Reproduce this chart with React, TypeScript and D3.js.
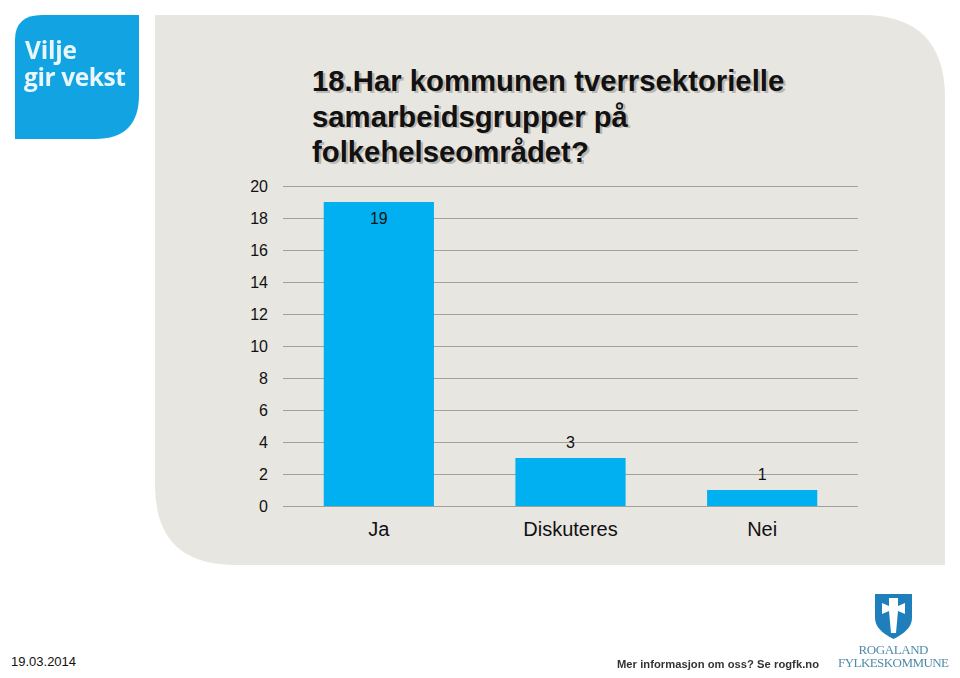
import React from "react";
import * as d3 from "d3";

const categories = ["Ja", "Diskuteres", "Nei"];
const values = [19, 3, 1];
const yTicks = [0, 2, 4, 6, 8, 10, 12, 14, 16, 18, 20];
const titleLines = [
  "18.Har kommunen tverrsektorielle",
  "samarbeidsgrupper på",
  "folkehelseområdet?",
];
const dateLabel = "19.03.2014";
const footerLabel = "Mer informasjon om oss? Se rogfk.no";

const SANS = "'Liberation Sans', Arial, sans-serif";
const SERIF = "'Liberation Serif', 'Times New Roman', serif";

const y = d3.scaleLinear().domain([0, 20]).range([506, 186]);
const x = d3.scaleBand<string>().domain(categories).range([283, 858]).paddingInner(0.425).paddingOuter(0.2125);

export default function App() {
  return (
    <svg width={960} height={678} viewBox="0 0 960 678"
      style={{ position: "absolute", left: 0, top: 0, background: "#fff" }}>
      <defs>
        <filter id="soft" x="-5%" y="-5%" width="110%" height="110%">
          <feGaussianBlur stdDeviation="0.35" />
        </filter>
      </defs>

      {/* panel */}
      <path d="M155,15 H862 Q945,15 945,98 V565 H235 Q155,565 155,485 Z" fill="#e8e6e1" />

      {/* logo */}
      <path d="M15,40 Q15,15 42,15 H139 V95 Q139,139 95,139 H15 Z" fill="#12a3e3" />
      <g fill="#e9f6fc" fontFamily="'Open Sans', sans-serif" fontWeight={700} filter="url(#soft)">
        <text x={25} y={59} fontSize={24.5} textLength={52}>Vilje</text>
        <text x={24} y={86} fontSize={24.5} textLength={102}>gir vekst</text>
      </g>

      {/* grid */}
      {yTicks.map((t) => (
        <line key={t} x1={283} x2={858} y1={y(t) + 0.5} y2={y(t) + 0.5} stroke="#a3a19c" strokeWidth={1} />
      ))}

      {/* y tick labels */}
      {yTicks.map((t) => (
        <text key={t} x={268} y={y(t)} dy="0.35em" textAnchor="end" fontFamily={SANS} fontSize={16} fill="#111">
          {t}
        </text>
      ))}

      {/* bars */}
      {categories.map((c, i) => (
        <rect key={c} x={x(c)} y={y(values[i])} width={x.bandwidth()} height={y(0) - y(values[i])} fill="#00b0f0" />
      ))}

      {/* value labels */}
      {categories.map((c, i) => (
        <text key={c} x={x(c)! + x.bandwidth() / 2} y={y(values[i]) + (values[i] > 15 ? 16 : -16)} dy="0.36em"
          textAnchor="middle" fontFamily={SANS} fontSize={16} fill="#111">
          {values[i]}
        </text>
      ))}

      {/* category labels */}
      {categories.map((c) => (
        <text key={c} x={x(c)! + x.bandwidth() / 2} y={536} textAnchor="middle" fontFamily={SANS} fontSize={20} fill="#111">
          {c}
        </text>
      ))}

      {/* title */}
      {titleLines.map((l, i) => (
        <g key={l} fontFamily={SANS} fontWeight={700} fontSize={29.3}>
          <text x={313} y={91 + i * 35.5} fill="#b9b7b3" transform="translate(1.5,1.5)" filter="url(#soft)">{l}</text>
          <text x={312} y={91 + i * 35.5} fill="#111">{l}</text>
        </g>
      ))}

      {/* footer */}
      <text x={11} y={666} fontFamily={SANS} fontSize={13} fill="#111">{dateLabel}</text>
      <text x={617} y={668} fontFamily={SANS} fontWeight={700} fontSize={11.2} fill="#333" textLength={202} filter="url(#soft)">
        {footerLabel}
      </text>

      {/* county crest */}
      <path d="M875,594 H912 V618 Q912,630 893.5,639 Q875,630 875,618 Z" fill="#1f7fbd" />
      <path d="M889,598 H898 V606 L905,603 V614 L898,611 L896,633 H891 L889,611 L882,614 V603 L889,606 Z" fill="#fff" />
      <g fontFamily={SERIF} fill="#4f8ba8" filter="url(#soft)">
        <text x={893.5} y={654} fontSize={13} textAnchor="middle" textLength={70}>ROGALAND</text>
        <text x={893.5} y={667} fontSize={13} textAnchor="middle" textLength={111}>FYLKESKOMMUNE</text>
      </g>
    </svg>
  );
}
